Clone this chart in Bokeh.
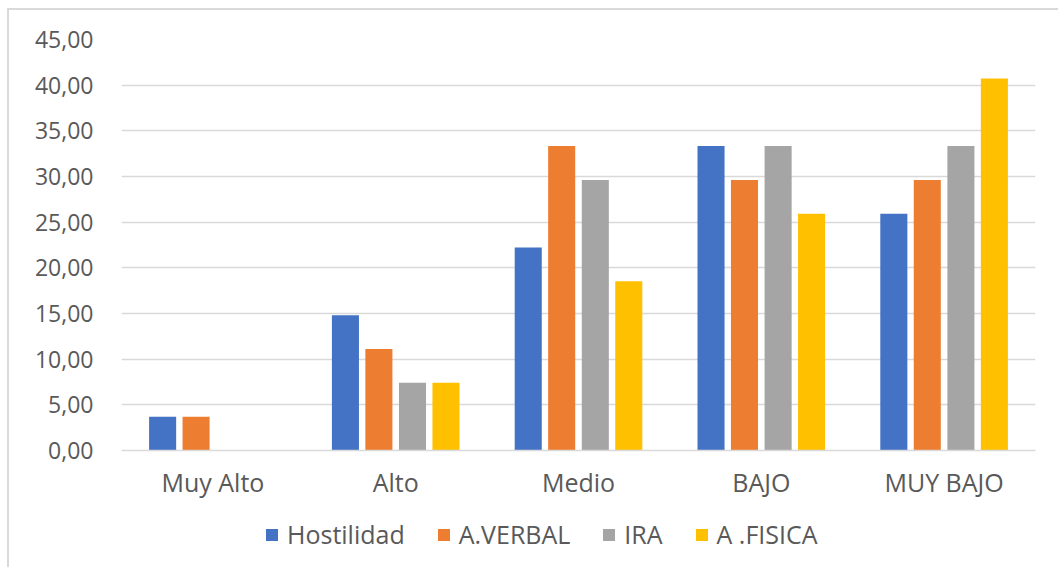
from bokeh.plotting import figure
from bokeh.layouts import column
from bokeh.models import ColumnDataSource, FactorRange, Legend, LegendItem, FixedTicker
from bokeh.transform import dodge
from bokeh.embed import file_html
from bokeh.resources import INLINE

niveles = ["Muy Alto", "Alto", "Medio", "BAJO", "MUY BAJO"]
series = ["Hostilidad", "A.VERBAL", "IRA", "A .FISICA"]
hostilidad = [3.70, 14.81, 22.22, 33.33, 25.93]
a_verbal = [3.70, 11.11, 33.33, 29.63, 29.63]
ira = [0.00, 7.41, 29.63, 33.33, 33.33]
a_fisica = [0.00, 7.41, 18.52, 25.93, 40.74]
y_ticks = [0, 5, 10, 15, 20, 25, 30, 35, 40, 45]
y_labels = ["0,00", "5,00", "10,00", "15,00", "20,00", "25,00", "30,00", "35,00", "40,00", "45,00"]

colores = ["#4472C4", "#ED7D31", "#A5A5A5", "#FFC000"]
FONT = "Open Sans"
TXT = "#595959"
GRID = "#d9d9d9"

source = ColumnDataSource(dict(nivel=niveles, h=hostilidad, v=a_verbal, i=ira, f=a_fisica))

# main bar chart
p = figure(
    x_range=FactorRange(*niveles), y_range=(0, 45),
    width=1049, height=500,
    output_backend="svg", toolbar_location=None,
    min_border_left=112, min_border_right=23, min_border_top=29, min_border_bottom=60,
)

offsets = [-0.275, -0.092, 0.092, 0.275]
cols = ["h", "v", "i", "f"]
for col, off, c in zip(cols, offsets, colores):
    p.vbar(x=dodge("nivel", off, range=p.x_range), top=col, width=0.148,
           source=source, fill_color=c, line_color=None)

p.outline_line_color = None
p.background_fill_color = "white"
p.border_fill_color = "white"

p.xgrid.grid_line_color = None
p.ygrid.grid_line_color = GRID
p.ygrid.grid_line_width = 1.5
p.ygrid.ticker = FixedTicker(ticks=y_ticks)

p.yaxis.ticker = FixedTicker(ticks=y_ticks)
p.yaxis.major_label_overrides = {t: l for t, l in zip(y_ticks, y_labels)}
p.yaxis.axis_line_color = None
p.yaxis.major_tick_line_color = None
p.yaxis.minor_tick_line_color = None
p.yaxis.major_label_standoff = 22
p.yaxis.major_label_text_font = FONT
p.yaxis.major_label_text_font_size = "23px"
p.yaxis.major_label_text_color = TXT

p.xaxis.axis_line_color = GRID
p.xaxis.axis_line_width = 1.5
p.xaxis.major_tick_line_color = None
p.xaxis.minor_tick_line_color = None
p.xaxis.major_label_standoff = 8
p.xaxis.major_label_text_font = FONT
p.xaxis.major_label_text_font_size = "25px"
p.xaxis.major_label_text_color = TXT

# legend strip under the chart; zero-size swatch renderers carry the colours
lg = figure(
    width=1049, height=57, x_range=(0, 1), y_range=(0, 1),
    output_backend="svg", toolbar_location=None,
    min_border_left=0, min_border_right=0, min_border_top=0, min_border_bottom=0,
)
lg.axis.visible = False
lg.grid.grid_line_color = None
lg.outline_line_color = None
lg.border_fill_color = "white"
swatches = [lg.vbar(x=[0], top=[0], width=0, fill_color=c, line_color=None)
            for c in colores]

legend = Legend(
    items=[LegendItem(label=s, renderers=[r]) for s, r in zip(series, swatches)],
    orientation="horizontal", location=(143, 16),
    label_text_font=FONT, label_text_font_size="25px", label_text_color=TXT,
    glyph_width=15, glyph_height=15, label_standoff=8, spacing=31, label_height=26,
    border_line_color=None, background_fill_alpha=0, padding=0, margin=0,
)
lg.add_layout(legend)

layout = column(p, lg, spacing=0)
layout.styles = {
    "margin-left": "7px", "margin-top": "8px",
    "border-left": "2px solid #d9d9d9", "border-top": "2px solid #d9d9d9",
}

open("out.html", "w").write(file_html(layout, INLINE))
